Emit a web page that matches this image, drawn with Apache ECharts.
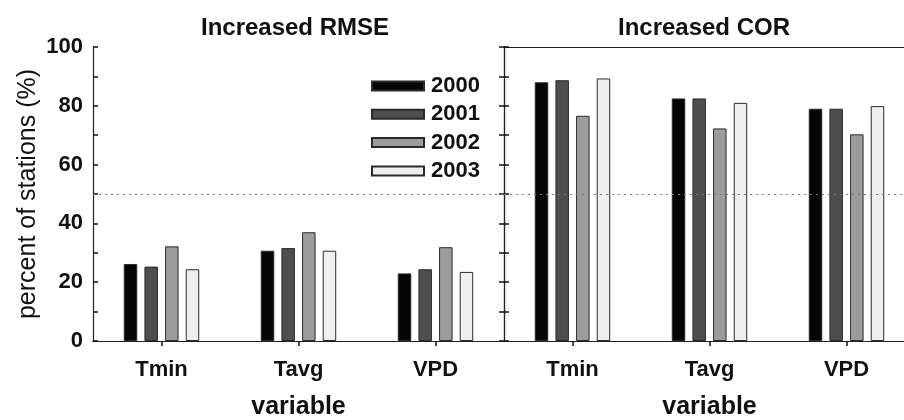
<!DOCTYPE html>
<html>
<head>
<meta charset="utf-8">
<script src="https://cdn.jsdelivr.net/npm/echarts@6/dist/echarts.min.js"></script>
<style>html,body{margin:0;padding:0;background:#fff}#c{width:904px;height:420px}</style>
</head>
<body>
<div id="c"></div>
<script>
const categories = ['Tmin', 'Tavg', 'VPD'];
const years = ['2000', '2001', '2002', '2003'];
const panelTitles = ['Increased RMSE', 'Increased COR'];
const rmse2000 = [26.2, 30.7, 23.0];
const rmse2001 = [25.3, 31.6, 24.4];
const rmse2002 = [32.2, 37.0, 31.9];
const rmse2003 = [24.4, 30.7, 23.5];
const cor2000 = [88.0, 82.5, 79.0];
const cor2001 = [88.7, 82.5, 79.0];
const cor2002 = [76.6, 72.3, 70.3];
const cor2003 = [89.3, 81.0, 79.9];
const yTicks = [0, 20, 40, 60, 80, 100];
const refLine = 50;

const colors = ['#050505', '#4e4e4e', '#9c9c9c', '#efefef'];
const FONT = '"Liberation Sans", Arial, sans-serif';
const rmse = [rmse2000, rmse2001, rmse2002, rmse2003];
const cor = [cor2000, cor2001, cor2002, cor2003];

const chart = echarts.init(document.getElementById('c'), null, {renderer: 'canvas'});

function mkSeries(data, gi) {
  return data.map((d, i) => {
    const s = {
      name: years[i], type: 'bar', xAxisIndex: gi, yAxisIndex: gi === 0 ? 0 : 2,
      data: d, barWidth: 13.5, barGap: '53%',
      itemStyle: {color: colors[i], borderColor: '#2a2a2a', borderWidth: 1},
      emphasis: {disabled: true}, animation: false
    };
    if (i === 0) {
      s.markLine = {
        silent: true, symbol: 'none', label: {show: false},
        lineStyle: {color: '#777', type: [2, 4], width: 1},
        data: [{yAxis: refLine}]
      };
    }
    return s;
  });
}

const tickStyle = {color: '#111', width: 1.5};
const yCommon = {
  type: 'value', min: 0, max: 100, interval: 10,
  axisLine: {show: true, lineStyle: {color: '#222', width: 1.2}},
  axisTick: {show: true, inside: true, length: 5, lineStyle: tickStyle},
  splitLine: {show: false}
};

const option = {
  animation: false,
  backgroundColor: '#fff',
  textStyle: {fontFamily: FONT},
  title: [
    {text: panelTitles[0], left: 290, top: 11, textAlign: 'center',
     textStyle: {fontFamily: FONT, fontSize: 24, fontWeight: 'bold', color: '#111'}},
    {text: panelTitles[1], left: 699, top: 11, textAlign: 'center',
     textStyle: {fontFamily: FONT, fontSize: 24, fontWeight: 'bold', color: '#111'}}
  ],
  legend: {
    show: true, orient: 'vertical', left: 366, top: 70,
    itemWidth: 52, itemHeight: 9, itemGap: 6.3, icon: 'rect',
    data: years,
    textStyle: {fontFamily: FONT, fontSize: 22, fontWeight: 'bold', color: '#111', lineHeight: 22, padding: [0, 0, 0, 2]},
    selectedMode: false
  },
  grid: [
    {left: 93, top: 47, width: 411, height: 294, containLabel: false, outerBoundsMode: 'none'},
    {left: 504, top: 47, width: 411, height: 294, containLabel: false, outerBoundsMode: 'none'}
  ],
  xAxis: [0, 1].map(gi => ({
    gridIndex: gi, type: 'category', data: categories,
    position: 'bottom',
    axisLine: {show: true, lineStyle: {color: '#222', width: 1.2}},
    axisTick: {show: true, alignWithLabel: true, length: 5, lineStyle: tickStyle},
    axisLabel: {fontFamily: FONT, fontSize: 22, fontWeight: 'bold', color: '#111', margin: 18},
    name: 'variable', nameLocation: 'middle', nameGap: 54,
    nameTextStyle: {fontFamily: FONT, fontSize: 25, fontWeight: 'bold', color: '#111'}
  })).concat([0, 1].map(gi => ({
    gridIndex: gi, type: 'category', data: categories, position: 'top',
    axisLine: {show: true, lineStyle: {color: '#222', width: 1.2}},
    axisTick: {show: false}, axisLabel: {show: false}
  }))),
  yAxis: [
    Object.assign({}, yCommon, {
      gridIndex: 0, position: 'left',
      axisLabel: {
        fontFamily: FONT, fontSize: 22, fontWeight: 'bold', color: '#111', margin: 10,
        formatter: v => yTicks.includes(v) ? String(v) : ''
      },
      name: 'percent of stations (%)', nameLocation: 'middle', nameGap: 52, nameRotate: 90,
      nameTextStyle: {fontFamily: FONT, fontSize: 25, color: '#111'}
    }),
    Object.assign({}, yCommon, {
      gridIndex: 0, position: 'right',
      axisLabel: {show: false}
    }),
    Object.assign({}, yCommon, {
      gridIndex: 1, position: 'left',
      axisLabel: {show: false}
    })
  ],
  series: mkSeries(rmse, 0).concat(mkSeries(cor, 1))
};
chart.setOption(option);
</script>
</body>
</html>
